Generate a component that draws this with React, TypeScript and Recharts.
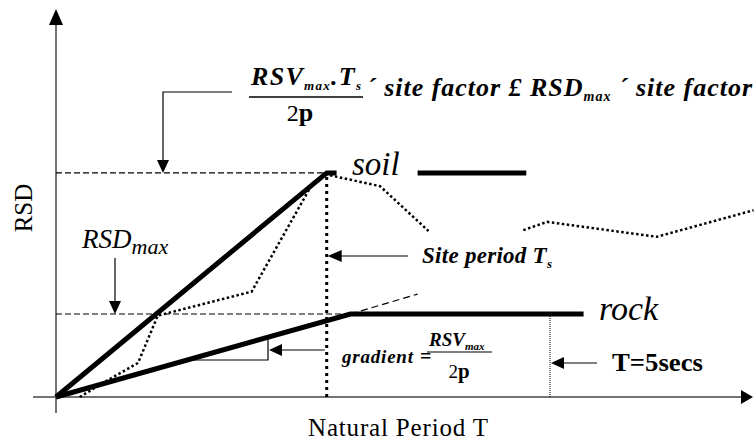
import React from 'react';
import { LineChart, Line, XAxis, YAxis, ReferenceLine, Customized } from 'recharts';

// natural period T in seconds, RSD relative to the rock plateau (RSDmax = 1)
const TS = 2.74;        // site period
const T_LIMIT = 5;      // T = 5 secs
const ROCK_RSD = 1;
const SOIL_RSD = 2.7;

const soilDesignT = [0, TS, 2.84];
const soilDesignRSD = [0, SOIL_RSD, SOIL_RSD];
const soilKeyT = [3.66, 4.76];
const soilKeyRSD = [SOIL_RSD, SOIL_RSD];

const rockDesignT = [0, 2.98, 5.34];
const rockDesignRSD = [0, ROCK_RSD, ROCK_RSD];
const gradientExtT = [2.98, 3.66];
const gradientExtRSD = [ROCK_RSD, 1.24];

const spectrumT = [0.24, 0.52, 0.83, 1.03, 1.98, 2.6, 2.74, 3.28, 3.77, 4.25, 4.73, 4.97, 6.08, 7.06];
const spectrumRSD = [0, 0.2, 0.41, 0.98, 1.27, 2.58, 2.68, 2.54, 2.0, null, 2.01, 2.11, 1.93, 2.25];

const toRows = (ts: number[], rs: (number | null)[]) => ts.map((t, i) => ({ t, rsd: rs[i] }));

const soilDesign = toRows(soilDesignT, soilDesignRSD);
const soilKey = toRows(soilKeyT, soilKeyRSD);
const rockDesign = toRows(rockDesignT, rockDesignRSD);
const gradientExt = toRows(gradientExtT, gradientExtRSD);
const spectrum = toRows(spectrumT, spectrumRSD);

// drawing geometry
const W = 754;
const H = 446;
const X0 = 56;          // pixel of T = 0
const Y0 = 397;         // pixel of RSD = 0
const PX_PER_S = 98.8;
const PX_PER_RSD = 83;

const tDomain = [-X0 / PX_PER_S, (W - X0) / PX_PER_S];
const rDomain = [-(H - Y0) / PX_PER_RSD, Y0 / PX_PER_RSD];

const sx = (t: number) => X0 + t * PX_PER_S;
const sy = (r: number) => Y0 - r * PX_PER_RSD;

const INK = '#000';
const AXIS = '#444';
const serif = { fontFamily: 'Liberation Serif, serif' };

const head = (x: number, y: number, dir: 'up' | 'down' | 'left' | 'right', len = 12, half = 5) => {
  let pts: number[][] = [];
  if (dir === 'down') pts = [[x, y], [x - half, y - len], [x + half, y - len]];
  if (dir === 'up') pts = [[x, y], [x - half, y + len], [x + half, y + len]];
  if (dir === 'left') pts = [[x, y], [x + len, y - half], [x + len, y + half]];
  if (dir === 'right') pts = [[x, y], [x - len, y - half], [x - len, y + half]];
  return <polygon points={pts.map((p) => p.join(',')).join(' ')} fill={INK} />;
};

const Annotations = () => {
  const tsX = sx(TS);
  const t5X = sx(T_LIMIT);
  return (
    <g fill={INK}>
      {/* axes */}
      <line x1={33} y1={Y0} x2={742} y2={Y0} stroke={AXIS} strokeWidth={1.5} />
      {head(753, Y0, 'right', 12, 7)}
      <line x1={X0} y1={413} x2={X0} y2={24} stroke={AXIS} strokeWidth={1.5} />
      {head(X0, 9, 'up', 16, 7)}

      <text style={serif} x={23} y={208} fontSize={25} textAnchor="middle" dominantBaseline="central"
        transform="rotate(-90 23 208)">RSD</text>
      <text style={serif} x={398} y={436} fontSize={25} textAnchor="middle" textLength={180} lengthAdjust="spacing">
        Natural Period T
      </text>

      {/* top formula */}
      <text style={serif} x={251} y={85} fontSize={26} fontWeight="bold" fontStyle="italic" textLength={110} lengthAdjust="spacing">
        RSV<tspan fontSize={13} dy={5}>max</tspan><tspan dy={-5}>.T</tspan><tspan fontSize={13} dy={5}>s</tspan>
      </text>
      <line x1={249} y1={97} x2={363} y2={97} stroke={INK} strokeWidth={1.5} />
      <text style={serif} x={300} y={121} fontSize={24} textAnchor="middle">
        2<tspan fontWeight="bold" fontSize={26}>p</tspan>
      </text>
      <text style={serif} x={367} y={96} fontSize={26} fontWeight="bold" fontStyle="italic" textLength={385} lengthAdjust="spacing">
        ´ site factor £ RSD<tspan fontSize={14} dy={5}>max</tspan><tspan dy={-5}> ´ site factor</tspan>
      </text>
      <polyline points={`232,92 163,92 163,${sy(SOIL_RSD) - 10}`} fill="none" stroke={INK} strokeWidth={1.2} />
      {head(163, sy(SOIL_RSD), 'down', 13, 6)}

      {/* RSDmax label */}
      <text style={serif} x={82} y={248} fontSize={27} fontStyle="italic">
        RSD<tspan fontSize={22} dy={6}>max</tspan>
      </text>
      <line x1={115} y1={258} x2={115} y2={sy(ROCK_RSD) - 10} stroke={INK} strokeWidth={1.2} />
      {head(115, sy(ROCK_RSD), 'down', 13, 6)}

      {/* curve labels */}
      <text style={serif} x={352} y={175} fontSize={33} fontStyle="italic">soil</text>
      <text style={serif} x={599} y={320} fontSize={34} fontStyle="italic">rock</text>

      {/* site period */}
      <line x1={408} y1={256} x2={tsX + 12} y2={256} stroke={INK} strokeWidth={1.2} />
      {head(tsX + 1, 256, 'left', 14, 6)}
      <text style={serif} x={422} y={263} fontSize={23} fontWeight="bold" fontStyle="italic" textLength={130} lengthAdjust="spacing">
        Site period T<tspan fontSize={13} dy={5}>s</tspan>
      </text>

      {/* gradient triangle */}
      <polyline points={`190,360 268,360 268,338`} fill="none" stroke={INK} strokeWidth={1.2} />
      <line x1={tsX - 2} y1={350} x2={280} y2={350} stroke={INK} strokeWidth={1.2} />
      {head(269, 350, 'left', 13, 6)}
      <text style={serif} x={342} y={363} fontSize={19} fontWeight="bold" fontStyle="italic" textLength={71} lengthAdjust="spacing">gradient</text>
      <text style={serif} x={420} y={363} fontSize={20} fontWeight="bold">=</text>
      <text style={serif} x={429} y={346} fontSize={19} fontWeight="bold" fontStyle="italic">
        RSV<tspan fontSize={11} dy={4}>max</tspan>
      </text>
      <line x1={427} y1={352} x2={492} y2={352} stroke={INK} strokeWidth={1.2} />
      <text style={serif} x={459} y={378} fontSize={19} textAnchor="middle">
        2<tspan fontWeight="bold" fontSize={21}>p</tspan>
      </text>

      {/* T = 5 secs */}
      <line x1={597} y1={363} x2={t5X + 12} y2={363} stroke={INK} strokeWidth={1.2} />
      {head(t5X + 1, 363, 'left', 13, 6)}
      <text style={serif} x={612} y={371} fontSize={26} fontWeight="bold" textLength={91} lengthAdjust="spacingAndGlyphs">T=5secs</text>
    </g>
  );
};

export default function App() {
  return (
    <div style={{ position: 'absolute', left: 0, top: 0, width: W, height: H, background: '#fff' }}>
      <LineChart width={W} height={H} margin={{ top: 0, right: 0, bottom: 0, left: 0 }}>
        <XAxis type="number" dataKey="t" domain={tDomain} allowDataOverflow hide />
        <YAxis type="number" dataKey="rsd" domain={rDomain} allowDataOverflow hide />

        <ReferenceLine segment={[{ x: 0, y: SOIL_RSD }, { x: TS, y: SOIL_RSD }]}
          stroke={INK} strokeWidth={1.2} strokeDasharray="6 3" />
        <ReferenceLine segment={[{ x: 0, y: ROCK_RSD }, { x: rockDesignT[1], y: ROCK_RSD }]}
          stroke={INK} strokeWidth={1.2} strokeDasharray="6 3" />
        <ReferenceLine segment={[{ x: TS, y: 0 }, { x: TS, y: SOIL_RSD }]}
          stroke={INK} strokeWidth={3} strokeDasharray="3 4" />
        <ReferenceLine segment={[{ x: T_LIMIT, y: 0 }, { x: T_LIMIT, y: ROCK_RSD }]}
          stroke={INK} strokeWidth={1} strokeDasharray="1 1" />

        <Line data={gradientExt} dataKey="rsd" type="linear" stroke={INK} strokeWidth={1.2}
          strokeDasharray="7 4" dot={false} activeDot={false} isAnimationActive={false} />
        <Line data={spectrum} dataKey="rsd" type="linear" stroke={INK} strokeWidth={2.5}
          strokeDasharray="2.5 2.5" dot={false} activeDot={false} connectNulls={false} isAnimationActive={false} />
        <Line data={rockDesign} dataKey="rsd" type="linear" stroke={INK} strokeWidth={5}
          dot={false} activeDot={false} isAnimationActive={false} />
        <Line data={soilDesign} dataKey="rsd" type="linear" stroke={INK} strokeWidth={5}
          dot={false} activeDot={false} isAnimationActive={false} />
        <Line data={soilKey} dataKey="rsd" type="linear" stroke={INK} strokeWidth={5}
          dot={false} activeDot={false} isAnimationActive={false} />

        <Customized component={Annotations} />
      </LineChart>
    </div>
  );
}
